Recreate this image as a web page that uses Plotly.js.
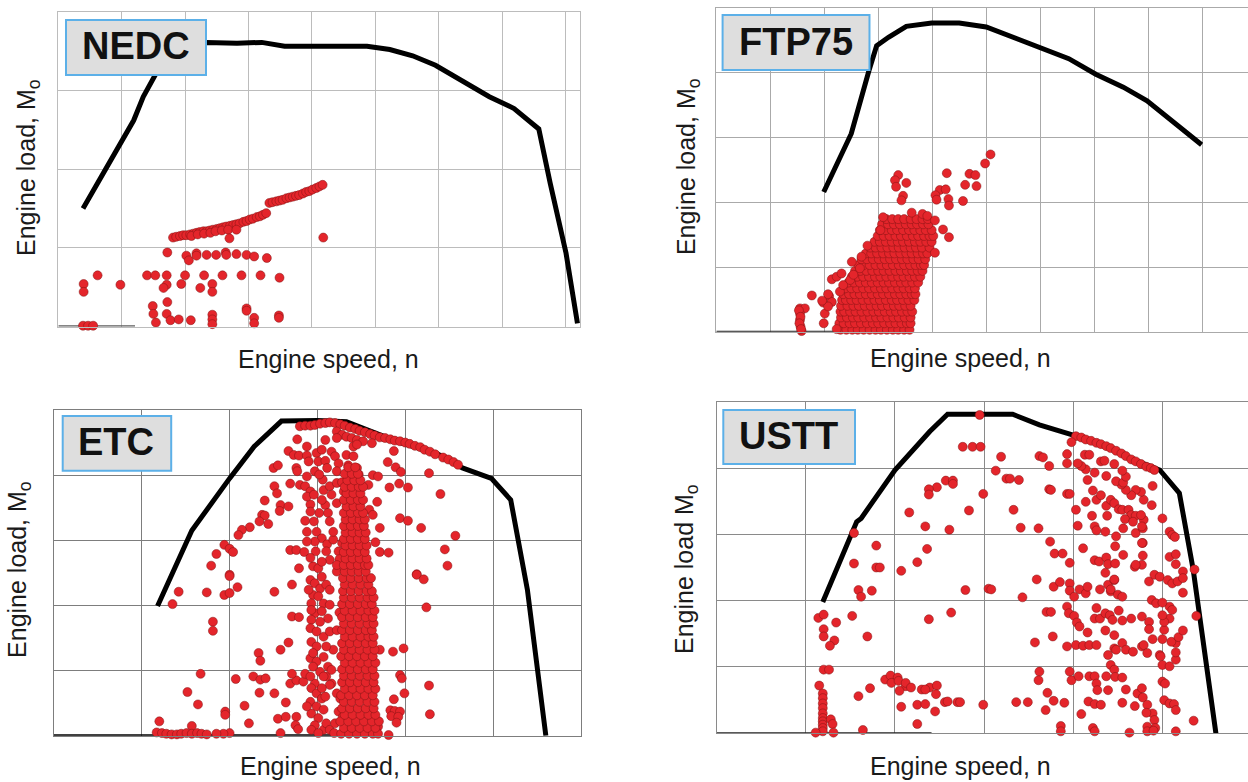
<!DOCTYPE html>
<html><head><meta charset="utf-8">
<script src="https://cdn.plot.ly/plotly-3.0.1.min.js"></script>
<style>html,body{margin:0;padding:0;background:#fff;}#chart{width:1248px;height:782px;}</style>
</head><body><div id="chart"></div>
<script>
// ---------- labels ----------
const panelNames = ['NEDC', 'FTP75', 'ETC', 'USTT'];
const xTitles = ['Engine speed, n', 'Engine speed, n', 'Engine speed, n', 'Engine speed, n'];
const yTitles = ['Engine load, M<sub>o</sub>', 'Engine load, M<sub>o</sub>', 'Engine load, M<sub>o</sub>', 'Engine load M<sub>o</sub>'];

// ---------- NEDC ----------
const nedcCurveX = [0.39,1.19,1.34,1.52,1.75,2.00,2.33,2.82,3.21,3.57,4.51,4.87,5.23,5.59,5.95,6.32,6.80,7.19,7.58,7.76,8.01,8.19];
const nedcCurveY = [1.50,2.62,2.92,3.19,3.52,3.60,3.61,3.60,3.61,3.56,3.57,3.56,3.52,3.44,3.32,3.15,2.92,2.77,2.51,1.82,0.93,0.04];
const nedcBaseX = [0, 1.21];
const nedcBaseY = [0, 0];
const nedcX = [
1.81,1.86,1.92,1.97,2.02,2.08,2.13,2.18,2.23,2.29,2.34,2.39,2.44,2.50,2.55,2.60,2.65,2.71,2.76,2.81,2.86,2.92,2.97,3.02,3.07,3.13,3.18,3.23,3.28,
2.10,2.20,2.30,2.40,2.48,2.58,2.68,2.81,
3.33,3.38,3.44,3.49,3.54,3.60,3.65,3.70,3.75,3.80,3.86,3.91,3.96,4.01,4.07,4.12,4.17,
2.70,4.18,
1.72,2.02,2.06,2.18,2.18,2.34,2.49,2.64,2.65,2.81,2.97,3.09,3.29,
0.62,0.40,0.40,0.98,1.40,1.53,1.71,1.71,1.66,1.94,2.00,2.24,2.30,2.43,2.43,2.59,2.89,3.19,3.49,
1.49,1.50,1.54,1.72,1.71,1.77,1.90,2.09,2.43,2.43,2.43,2.97,2.97,3.09,3.09,3.48,3.48,
0.39,0.47,0.55];
const nedcY = [
1.13,1.14,1.15,1.16,1.16,1.17,1.18,1.19,1.20,1.21,1.21,1.22,1.23,1.24,1.25,1.26,1.27,1.28,1.29,1.30,1.31,1.33,1.34,1.36,1.37,1.39,1.40,1.42,1.44,
1.15,1.17,1.18,1.19,1.21,1.22,1.23,1.23,
1.57,1.58,1.59,1.60,1.61,1.63,1.64,1.65,1.66,1.67,1.69,1.71,1.72,1.74,1.76,1.78,1.80,
1.12,1.13,
0.94,0.90,0.84,0.93,0.90,0.91,0.91,0.94,0.91,0.92,0.91,0.89,0.87,
0.65,0.54,0.44,0.53,0.65,0.65,0.65,0.53,0.49,0.54,0.65,0.49,0.65,0.54,0.44,0.65,0.65,0.65,0.62,
0.26,0.16,0.05,0.31,0.16,0.08,0.09,0.08,0.15,0.09,0.03,0.23,0.20,0.11,0.04,0.14,0.11,
0.01,0.01,0.01];

// ---------- FTP75 ----------
const ftpCurveX = [1.99,2.50,2.83,2.97,3.19,3.52,3.99,4.50,5.00,5.51,6.02,6.53,7.03,7.54,7.98,8.48,8.99];
const ftpCurveY = [2.16,3.06,4.04,4.42,4.55,4.72,4.77,4.77,4.71,4.55,4.40,4.22,3.98,3.78,3.57,3.24,2.89];
const ftpBaseX = [0, 3.0];
const ftpBaseY = [0, 0];
const ftpPts = [
[5.08,2.74],[4.98,2.60],[4.69,2.44],[4.80,2.42],[4.61,2.27],[4.82,2.25],[4.57,2.02],[4.27,2.45],[4.14,2.19],[4.25,2.20],[4.06,2.11],[4.08,2.04],[4.30,2.05],[4.31,1.95],
[3.37,2.42],[3.31,2.34],[3.52,2.30],[3.33,2.24],[3.46,2.10],[3.43,2.03],
[3.62,1.84],[3.82,1.82],[3.91,1.79],[4.05,1.72],[4.20,1.58],[4.31,1.46],[4.05,1.22],[3.09,1.77],[3.04,1.57],[2.80,1.33],[2.69,1.16],[2.51,1.08],[2.14,0.81],[2.23,0.85],[2.32,0.90],
[1.77,0.56],[1.98,0.45],[2.09,0.55],[2.14,0.46],[1.55,0.36],[1.64,0.36],[1.55,0.28],[1.55,0.18],[1.56,0.08],[1.58,0.01],[2.23,0.04],[2.01,0.28],[1.99,0.13],[2.07,0.39],[2.29,0.62],[2.35,0.72],[2.48,0.80],[2.54,0.88],[2.66,0.98],
[1.53,0.33],[1.56,0.23],[1.54,0.13],[1.57,0.04],[2.07,0.58],[1.96,0.48]];
// dense cloud, read row by row (row load value, speeds in that row)
const ftpCloudY = [0.03,0.13,0.22,0.31,0.40,0.49,0.58,0.67,0.76,0.85,0.94,1.03,1.12,1.21,1.30,1.39,1.48,1.57,1.66,1.74];
const ftpCloudX = [
[2.30,2.41,2.52,2.62,2.73,2.84,2.95,3.05,3.16,3.27,3.37,3.48,3.58],
[2.28,2.36,2.47,2.57,2.68,2.79,2.90,3.00,3.11,3.22,3.32,3.43,3.53,3.60],
[2.31,2.42,2.53,2.63,2.74,2.85,2.96,3.06,3.17,3.28,3.38,3.49,3.60],
[2.30,2.37,2.48,2.58,2.69,2.80,2.91,3.01,3.12,3.23,3.33,3.44,3.54,3.63],
[2.31,2.43,2.54,2.64,2.75,2.86,2.97,3.07,3.18,3.29,3.39,3.50,3.60],
[2.33,2.40,2.50,2.60,2.71,2.82,2.93,3.03,3.14,3.25,3.35,3.46,3.56,3.67],
[2.35,2.46,2.56,2.66,2.77,2.88,2.99,3.09,3.20,3.31,3.41,3.52,3.62,3.69],
[2.39,2.50,2.61,2.72,2.83,2.94,3.05,3.15,3.26,3.37,3.47,3.58,3.68],
[2.45,2.55,2.66,2.77,2.88,2.99,3.10,3.20,3.31,3.42,3.52,3.63,3.74],
[2.51,2.61,2.72,2.83,2.94,3.04,3.15,3.26,3.37,3.47,3.58,3.68,3.78],
[2.57,2.67,2.78,2.89,3.00,3.10,3.21,3.32,3.42,3.53,3.63,3.73,3.82],
[2.63,2.73,2.84,2.95,3.06,3.16,3.27,3.38,3.48,3.59,3.69,3.79,3.85],
[2.69,2.79,2.90,3.01,3.12,3.22,3.33,3.44,3.54,3.65,3.75,3.87],
[2.77,2.87,2.98,3.09,3.20,3.30,3.41,3.52,3.62,3.73,3.83,3.91],
[2.85,2.95,3.06,3.17,3.28,3.38,3.49,3.60,3.70,3.81,3.95],
[2.93,3.03,3.14,3.25,3.36,3.46,3.57,3.68,3.78,3.89,3.99],
[2.99,3.10,3.21,3.32,3.42,3.53,3.64,3.74,3.85,3.95,4.02],
[3.03,3.14,3.25,3.35,3.46,3.57,3.67,3.78,3.88,3.99],
[3.07,3.18,3.29,3.40,3.51,3.62,3.72,3.83,3.93],
[3.15,3.26,3.37,3.48,3.60,3.71,3.82,3.92]];

// ---------- ETC ----------
const etcCurveX = [1.18,1.57,2.00,2.28,2.59,3.00,3.33,3.57,3.96,4.35,4.65,4.98,5.20,5.39,5.60];
const etcCurveY = [1.99,3.15,3.95,4.44,4.83,4.84,4.82,4.69,4.49,4.34,4.11,3.95,3.62,2.24,0.00];
const etcBaseX = [0, 3.6];
const etcBaseY = [0, 0];
const etcPts = [
// band along the full-load curve
[2.80,4.75],[2.86,4.76],[2.92,4.76],[2.97,4.77],[3.03,4.79],[3.09,4.80],[3.14,4.81],[3.20,4.80],[3.26,4.78],[3.31,4.76],[3.37,4.73],[3.43,4.71],[3.48,4.68],[3.54,4.66],[3.60,4.63],[3.65,4.61],[3.71,4.58],[3.77,4.57],[3.83,4.55],[3.88,4.53],[3.94,4.52],[4.00,4.50],[4.05,4.48],[4.11,4.45],[4.17,4.43],[4.22,4.39],[4.28,4.36],[4.34,4.32],[4.43,4.27],[4.49,4.24],[4.55,4.20],[4.60,4.16],
[3.22,4.67],[3.28,4.62],[3.33,4.59],[3.39,4.57],[3.45,4.54],[3.52,4.52],[3.62,4.49],[3.22,4.57],[3.41,4.44],[3.45,4.47],
// upper scatter
[2.77,4.55],[3.09,4.54],[2.67,4.37],[2.73,4.31],[2.79,4.30],[2.88,4.44],[2.88,4.30],[2.90,4.21],[2.99,4.34],[3.01,4.21],[3.05,4.39],[3.09,4.22],[3.11,4.11],[3.16,4.36],[3.20,4.29],[3.24,4.18],[3.22,4.06],[3.33,4.31],[3.35,4.15],[3.41,4.29],[3.45,4.11],[3.47,4.01],
[2.50,4.11],[2.55,4.15],[2.76,4.11],[2.77,4.06],[2.88,3.98],[2.80,3.85],[2.86,3.83],[2.69,3.87],[2.51,3.83],[2.54,3.72],[2.40,3.61],[2.58,3.54],[2.57,3.45],[2.67,3.52],[2.37,3.39],[2.40,3.38],[2.34,3.29],[2.44,3.25],[2.23,3.20],[2.14,3.16],[2.10,3.08],[1.94,2.93],[2.00,2.87],[2.04,2.82],[1.85,2.79],[1.79,2.61],[2.00,2.47],
[2.69,2.85],[2.76,2.85],[2.85,2.82],[2.79,2.57],[2.95,2.60],[3.01,2.57],[3.22,2.52],[3.31,2.55],
[2.86,3.30],[2.88,3.13],[2.99,3.13],[2.92,3.55],[2.96,3.29],[3.02,3.42],[3.09,3.54],[3.12,3.42],[3.07,3.77],[3.14,3.83],[3.16,3.70],[3.22,3.57],[3.22,3.88],[3.28,3.89],[3.30,3.75],
[3.05,3.03],[3.11,2.94],[2.97,2.98],[2.98,2.83],[3.10,2.83],[3.18,3.01],[3.24,2.83],[3.28,2.96],[3.25,2.71],[3.37,2.85],[3.35,2.67],[2.97,4.06],[3.06,3.93],[3.02,4.01],
[2.92,3.75],[2.88,3.67],[2.96,3.70],[3.05,3.62],[2.92,3.44],[3.14,3.29],[2.88,2.98],[2.92,2.73],[3.14,2.70],[3.05,2.67],[3.22,2.62],[3.18,3.13],
// right-hand scatter
[3.63,4.00],[3.69,3.98],[3.58,3.85],[3.82,3.81],[3.93,3.87],[4.03,3.81],[3.80,4.20],[3.89,4.12],[3.95,4.05],[3.87,4.37],[4.27,4.03],[4.40,3.71],[3.68,3.59],[3.59,3.47],[3.63,3.39],[3.71,3.19],[3.94,3.34],[4.03,3.30],[4.18,3.19],[4.57,3.07],[3.66,2.97],[3.71,2.82],[3.81,2.81],[4.45,2.86],[4.48,2.61],[4.13,2.48],
// lower scatter
[1.42,2.21],[1.35,2.02],[1.74,2.20],[1.94,2.16],[2.00,2.19],[2.09,2.28],[2.00,2.45],[2.51,2.21],[2.71,2.32],[1.81,1.75],[1.81,1.61],[2.71,1.83],[2.79,1.82],[2.67,1.43],[2.58,1.32],[2.33,1.27],[2.35,1.15],
[1.67,0.95],[2.07,0.87],[2.27,0.91],[2.35,0.86],[2.41,0.88],[1.52,0.67],[1.64,0.48],[1.95,0.37],[1.95,0.32],[2.17,0.46],[2.34,0.66],[2.51,0.65],[2.64,0.51],[2.22,0.19],[2.55,0.26],[2.64,0.29],[2.76,0.29],[2.69,0.80],[2.76,0.85],[2.84,0.83],[2.71,0.95],[2.86,0.95],
[1.20,0.22],[1.57,0.15],[2.75,0.16],[2.78,0.10],[2.58,0.04],[2.00,0.04],[1.93,0.03],[1.85,0.03],
[1.17,0.05],[1.23,0.04],[1.28,0.03],[1.34,0.02],[1.40,0.02],[1.45,0.03],[1.51,0.04],[1.57,0.03],[1.63,0.04],[1.68,0.03],[1.74,0.02],
[3.71,1.32],[3.86,1.29],[3.98,1.34],[3.94,0.93],[3.96,0.88],[3.99,0.65],[3.87,0.56],[3.83,0.39],[3.88,0.38],[3.94,0.37],[3.84,0.30],[3.92,0.29],[3.90,0.20],[3.81,0.01],[3.69,0.14],[3.67,0.06],[3.65,0.29],[4.27,0.77],[4.28,0.33],[4.24,1.97],[4.13,2.47],[4.21,2.40],[3.07,0.09],[3.16,0.80],[3.10,0.91],[3.12,1.80],[3.25,1.89],
// second (left) column
[2.92,2.39],[2.97,2.34],[3.03,2.26],[3.10,2.32],[2.95,2.16],[3.01,2.14],[3.07,2.03],[2.93,2.03],[3.14,2.01],[2.97,1.88],[2.93,1.78],[3.03,1.75],[2.92,1.65],[2.99,1.60],[3.07,1.52],[2.93,1.44],[3.14,1.60],[3.22,1.62],[3.18,1.32],[2.92,1.19],
[2.99,1.14],[3.07,1.21],[3.12,1.06],[2.95,1.06],[3.03,0.98],[2.97,0.80],[2.93,0.73],[2.99,0.65],[3.05,0.57],[2.92,0.52],[2.99,0.45],[2.93,0.34],[3.01,0.27],[2.97,0.16],[3.09,0.60],[3.16,1.01],[3.22,0.65],[3.26,0.57],[3.24,0.37],[3.29,0.29],
[2.90,2.24],[3.05,2.44],[3.14,2.24],[2.93,1.93],[3.05,1.91],[2.99,1.37],[3.10,1.37],[2.95,1.27],[3.07,0.91],[3.14,0.78],[2.92,0.91],[3.05,0.73],[2.88,0.45],[3.07,0.40],[3.10,0.19],[2.93,0.09],[3.01,0.04],[3.14,0.09],[3.20,0.19],[3.19,0.04]];
// dense main column, read row by row
const etcColY = [0.03,0.12,0.22,0.32,0.42,0.52,0.62,0.72,0.82,0.92,1.02,1.12,1.22,1.32,1.42,1.52,1.62,1.72,1.82,1.92,2.02,2.12,2.22,2.32,2.42,2.52,2.62,2.72,2.82,2.92,3.02,3.12,3.22,3.32,3.42,3.52,3.62,3.72,3.82,3.92,4.02,4.12];
const etcColX = [
[3.27,3.36,3.45,3.54,3.63,3.69],[3.30,3.39,3.48,3.57,3.66],[3.26,3.35,3.44,3.53,3.62,3.70],[3.31,3.40,3.49,3.58,3.66],
[3.28,3.37,3.46,3.55,3.64],[3.30,3.39,3.48,3.57,3.65],[3.27,3.36,3.45,3.54,3.63],[3.31,3.40,3.49,3.58,3.66],
[3.28,3.37,3.46,3.55,3.64],[3.30,3.39,3.48,3.57,3.65],[3.28,3.37,3.46,3.55,3.63],[3.31,3.40,3.49,3.58,3.66],
[3.27,3.36,3.45,3.54,3.63],[3.30,3.39,3.48,3.57,3.65],[3.28,3.37,3.46,3.55,3.63],[3.31,3.40,3.49,3.58,3.64],
[3.28,3.37,3.46,3.55,3.62],[3.30,3.39,3.48,3.57,3.64],[3.28,3.37,3.46,3.55,3.63],[3.31,3.40,3.49,3.58,3.65],
[3.28,3.37,3.46,3.55,3.62],[3.30,3.39,3.48,3.57,3.64],[3.29,3.38,3.47,3.56,3.62],[3.31,3.40,3.49,3.58],
[3.29,3.38,3.47,3.56,3.61],[3.31,3.39,3.47,3.55],[3.30,3.38,3.46,3.54,3.58],[3.32,3.40,3.48,3.56],
[3.30,3.38,3.46,3.54],[3.32,3.40,3.48,3.56],[3.30,3.38,3.46,3.54],[3.32,3.40,3.48,3.55],
[3.30,3.38,3.46,3.53],[3.32,3.40,3.48,3.54],[3.30,3.38,3.46,3.52],[3.33,3.41,3.49],
[3.30,3.38,3.46,3.52],[3.33,3.41,3.49],[3.31,3.39,3.47,3.52],[3.34,3.42,3.49],
[3.31,3.39,3.46],[3.35,3.43]];

// ---------- USTT ----------
const usttCurveX = [1.19,1.57,1.62,2.00,2.39,2.59,3.32,3.62,3.99,4.37,4.63,4.97,5.19,5.345,5.60];
const usttCurveY = [1.98,3.19,3.24,3.97,4.55,4.81,4.81,4.65,4.50,4.32,4.15,3.97,3.62,2.47,0.00];
const usttBaseX = [0, 2.41];
const usttBaseY = [0, 0];
const usttPts = [
[2.95,4.80],[2.76,4.32],[2.87,4.32],[2.96,4.32],[2.57,3.81],[2.65,3.81],[2.65,3.76],[2.47,3.71],[2.38,3.68],[2.38,3.60],[2.99,3.61],[2.83,3.36],[2.16,3.33],[2.34,3.12],[2.61,3.07],[2.36,2.78],[1.79,2.83],[2.25,2.58],[1.54,2.56],[1.79,2.50],[1.83,2.50],[2.07,2.45],[1.59,2.16],[1.62,2.06],[1.74,2.15],[2.79,2.16],[3.05,2.18],[2.63,1.82],[2.38,1.72],[1.52,1.77],[1.14,1.74],[1.20,1.79],[1.34,1.67],[1.20,1.57],[1.20,1.46],[1.32,1.40],[1.27,1.32],[1.69,1.46],[1.20,0.96],[1.26,0.96],[1.15,0.72],
[1.89,0.81],[1.95,0.87],[2.03,0.84],[2.12,0.71],[2.30,0.66],[2.39,0.69],[2.47,0.72],[2.46,0.59],[1.96,0.76],[2.04,0.79],[2.12,0.76],[2.18,0.69],[2.05,0.64],[2.34,0.66],[1.72,0.68],[1.59,0.56],[2.07,0.40],[2.25,0.43],[2.34,0.44],[2.56,0.47],[2.59,0.48],[2.70,0.47],[2.73,0.47],[2.99,0.43],[2.45,0.33],[2.25,0.14],[1.64,0.05],
[1.19,0.60],[1.19,0.53],[1.19,0.45],[1.19,0.38],[1.19,0.30],[1.19,0.23],[1.19,0.18],[1.19,0.13],[1.19,0.08],[1.19,0.03],[1.28,0.21],[1.30,0.14],[1.11,0.01],[1.31,0.01],[1.54,3.02],
[4.03,4.48],[4.09,4.46],[4.14,4.43],[4.20,4.41],[4.26,4.38],[4.31,4.36],[4.37,4.33],[4.42,4.30],[4.48,4.26],[4.54,4.22],[4.59,4.18],[4.65,4.13],[4.70,4.10],[4.76,4.06],[4.82,4.02],[4.87,4.00],[4.91,3.97],
[3.19,4.17],[3.62,4.18],[3.66,4.16],[3.73,4.03],[3.13,3.96],[3.25,3.84],[3.29,3.84],[3.39,3.82],[3.73,3.68],[3.75,3.67],[3.93,3.61],[3.96,3.61],[3.33,3.37],[3.41,3.10],[3.61,3.09],[3.74,2.89],[3.79,2.71],[3.88,2.71],[3.96,2.57],[4.11,2.79],[3.08,2.17],[3.43,2.05],[3.59,2.32],[3.78,2.21],[3.85,2.28],[3.96,2.26],[3.96,2.15],[4.01,2.06],[4.07,2.17],[4.14,2.11],[4.16,2.21],[4.30,2.17],[4.39,2.24],[4.46,2.31],[4.42,2.14],[4.50,2.09],[4.55,2.06],
[3.93,1.91],[3.95,1.81],[3.70,1.83],[3.75,1.83],[4.01,1.77],[4.04,1.67],[4.07,1.61],[4.26,1.89],[4.24,1.73],[4.30,1.73],[4.36,1.81],[4.41,1.78],[4.44,1.71],[4.51,1.85],[4.55,1.70],[4.65,1.73],[4.77,1.76],[4.85,1.68],[4.85,1.57],[4.89,1.42],[4.36,1.55],[4.46,1.48],[4.16,1.52],[3.57,1.37],[3.77,1.46],[3.93,1.31],[4.03,1.33],[4.11,1.32],[4.18,1.33],[4.26,1.33],[4.39,1.18],[4.42,1.03],[4.46,1.28],[4.48,1.26],[4.55,1.36],[4.59,1.26],[4.67,1.23],[4.77,1.31],[4.79,1.33],[4.83,1.21],[4.97,1.18],[4.98,1.16],[5.00,1.03],[5.08,1.01],[5.15,1.11],[5.15,1.22],[5.15,1.36],[5.02,1.56],[5.00,1.42],[5.10,1.38],[5.18,1.45],[5.23,1.55],[5.08,1.73],[5.02,1.68],[5.00,1.78],[5.08,1.91],[5.11,1.86],[4.88,2.01],[4.93,1.96],[5.00,1.97],
[4.85,2.29],[4.91,2.39],[4.97,2.36],[5.06,2.31],[5.11,2.26],[5.17,2.29],[5.23,2.44],[5.23,2.34],[5.23,2.12],[5.08,2.66],[5.15,2.70],[5.15,2.55],[5.36,2.47],[5.38,1.77],[4.77,2.54],[4.69,2.51],[4.78,2.68],[4.78,2.87],[4.70,3.02],[4.78,3.09],[4.79,3.22],[5.08,3.04],[5.11,2.99],[5.14,2.96],[5.00,3.24],[4.88,3.44],[4.89,3.73],[4.79,3.52],[4.76,3.64],[4.70,3.67],[4.65,3.59],[4.59,3.67],[4.54,3.75],[4.48,3.80],[4.56,3.78],[4.59,3.87],[4.55,3.96],[4.46,4.06],[4.37,3.88],[4.31,4.10],[4.35,4.11],[4.24,3.93],[4.14,3.98],[4.16,3.82],[4.09,4.03],[4.05,4.07],[4.13,4.20],[4.18,4.20],[3.93,4.21],[3.93,4.07],[3.98,4.39],
[4.22,3.66],[4.26,3.52],[4.31,3.59],[4.37,3.43],[4.42,3.52],[4.46,3.47],[4.51,3.38],[4.55,3.37],[4.62,3.37],[4.65,3.29],[4.70,3.28],[4.76,3.29],[4.58,3.23],[4.67,3.19],[4.77,3.12],[4.14,3.49],[4.03,3.37],[4.21,3.28],[4.38,3.28],[4.05,3.13],[4.24,3.12],[4.26,3.06],[4.36,3.04],[4.48,2.97],[4.56,3.09],[4.47,2.82],[4.77,2.87],[4.24,2.61],[4.29,2.59],[4.37,2.65],[4.39,2.55],[4.47,2.56],[4.36,2.42],[4.56,2.69],[4.70,2.54],[4.46,2.32],[4.42,2.17],
[3.62,0.93],[3.61,0.80],[3.96,0.93],[3.98,0.80],[4.06,0.86],[4.18,0.86],[4.24,0.86],[4.26,0.75],[4.27,0.65],[4.37,0.86],[4.39,0.65],[4.46,0.96],[4.47,0.85],[4.55,0.84],[4.59,0.66],[4.72,0.60],[4.77,0.68],[4.78,0.54],[4.83,0.43],[4.89,0.30],[4.91,0.20],[4.83,0.10],[4.92,0.08],[5.00,0.78],[5.03,0.75],[5.02,0.50],[5.08,0.45],[5.13,0.44],[5.15,0.35],[5.35,0.19],[3.71,0.61],[3.78,0.49],[3.69,0.35],[3.90,0.46],[3.36,0.47],[3.49,0.47],[4.09,0.29],[4.17,0.48],[4.24,0.44],[4.31,0.43],[4.55,0.46],[4.69,0.41],[4.82,0.31],[3.86,0.11],[3.86,0.03],[4.22,0.08],[4.24,0.03],[4.63,0.01],[4.83,0.03],[5.15,0.03],[4.90,0.04]];

// ---------- helpers ----------
function rowsToXY(rowY, rowX) {
  const x = [], y = [];
  rowY.forEach((yy, i) => rowX[i].forEach(xx => { x.push(xx); y.push(yy); }));
  return {x, y};
}
function pairsToXY(pairs) { return {x: pairs.map(p => p[0]), y: pairs.map(p => p[1])}; }

const RED = '#e4252b';
const markerStyle = {color: RED, size: 9, line: {color: 'rgba(130,20,20,0.85)', width: 0.6}};
const FONT = 'Liberation Sans, Arial, Helvetica, sans-serif';

function curveTrace(x, y, ax) {
  return {x, y, type: 'scatter', mode: 'lines', xaxis: 'x' + ax, yaxis: 'y' + ax,
          line: {color: '#000', width: 5}, cliponaxis: false, hoverinfo: 'skip'};
}
function baseTrace(x, y, ax, color, width) {
  return {x, y, type: 'scatter', mode: 'lines', xaxis: 'x' + ax, yaxis: 'y' + ax,
          line: {color, width}, cliponaxis: false, hoverinfo: 'skip'};
}
function ptsTrace(x, y, ax) {
  return {x, y, type: 'scatter', mode: 'markers', xaxis: 'x' + ax, yaxis: 'y' + ax,
          marker: markerStyle, cliponaxis: false};
}

const ftpCloud = rowsToXY(ftpCloudY, ftpCloudX);
const ftpScatter = pairsToXY(ftpPts);
const etcCol = rowsToXY(etcColY, etcColX);
const etcScatter = pairsToXY(etcPts);
const usttScatter = pairsToXY(usttPts);

const data = [
  baseTrace(nedcBaseX, nedcBaseY, '', '#5e5e5e', 2.5),
  curveTrace(nedcCurveX, nedcCurveY, ''),
  ptsTrace(nedcX, nedcY, ''),
  baseTrace(ftpBaseX, ftpBaseY, '2', '#222', 2),
  curveTrace(ftpCurveX, ftpCurveY, '2'),
  ptsTrace(ftpCloud.x, ftpCloud.y, '2'),
  ptsTrace(ftpScatter.x, ftpScatter.y, '2'),
  baseTrace(etcBaseX, etcBaseY, '3', '#000', 3),
  curveTrace(etcCurveX, etcCurveY, '3'),
  ptsTrace(etcScatter.x, etcScatter.y, '3'),
  ptsTrace(etcCol.x, etcCol.y, '3'),
  baseTrace(usttBaseX, usttBaseY, '4', '#222', 2),
  curveTrace(usttCurveX, usttCurveY, '4'),
  ptsTrace(usttScatter.x, usttScatter.y, '4')
];

function axis(domain, range, grid, anchor) {
  return {domain, range, dtick: 1, tick0: 0, showgrid: true, gridcolor: grid, gridwidth: 1,
          zeroline: false, showticklabels: false, ticks: '', showline: true, linecolor: grid,
          linewidth: 1, mirror: true, anchor, fixedrange: true};
}

const layout = {
  width: 1248, height: 782, margin: {l: 0, r: 0, t: 0, b: 0},
  paper_bgcolor: '#fff', plot_bgcolor: '#fff', showlegend: false,
  font: {family: FONT, color: '#1a1a1a'},
  xaxis:  axis([0.04671, 0.46474], [0, 8.23], '#bcbcbc', 'y'),
  yaxis:  axis([0.58248, 0.98504], [0, 4],    '#bcbcbc', 'x'),
  xaxis2: axis([0.57396, 1.0],     [0, 9.85], '#aaaaaa', 'y2'),
  yaxis2: axis([0.57583, 0.98951], [0, 5],    '#aaaaaa', 'x2'),
  xaxis3: axis([0.04319, 0.46554], [0, 6],    '#7d7d7d', 'y3'),
  yaxis3: axis([0.05921, 0.47570], [0, 5],    '#7d7d7d', 'x3'),
  xaxis4: axis([0.57428, 1.0],     [0, 5.96], '#8a8a8a', 'y4'),
  yaxis4: axis([0.06228, 0.48632], [0, 5],    '#8a8a8a', 'x4'),
  shapes: [], annotations: []
};

// label boxes [x0,x1,y0,y1] in page fractions and text centres
const boxes = [
  {x0: 0.05288, x1: 0.16506, y0: 0.90409, y1: 0.97442, cx: 0.10921, cy: 0.94143},
  {x0: 0.57900, x1: 0.69670, y0: 0.91050, y1: 0.98080, cx: 0.63782, cy: 0.94693},
  {x0: 0.05024, x1: 0.13718, y0: 0.39808, y1: 0.46803, cx: 0.09295, cy: 0.43542},
  {x0: 0.57957, x1: 0.68510, y0: 0.40665, y1: 0.47570, cx: 0.63221, cy: 0.44309}
];
boxes.forEach((b, i) => {
  layout.shapes.push({type: 'rect', xref: 'paper', yref: 'paper', x0: b.x0, x1: b.x1, y0: b.y0, y1: b.y1,
    fillcolor: '#dedede', line: {color: '#5cb0e8', width: 2}, layer: 'above'});
  layout.annotations.push({xref: 'paper', yref: 'paper', x: b.cx, y: b.cy, xanchor: 'center', yanchor: 'middle',
    text: '<b>' + panelNames[i] + '</b>', showarrow: false, font: {family: FONT, size: 38, color: '#111'}});
});

// x titles: [x, y, yanchor]
const xTitlePos = [[0.2636, 0.5409, 'middle'], [0.7700, 0.5422, 'middle'], [0.2652, 0.0, 'bottom'], [0.7700, 0.0, 'bottom']];
const yTitlePos = [[0.0224, 0.7864], [0.5513, 0.7864], [0.0152, 0.2724], [0.5497, 0.2724]];
xTitlePos.forEach((p, i) => layout.annotations.push({xref: 'paper', yref: 'paper', x: p[0], y: p[1],
  xanchor: 'center', yanchor: p[2], text: xTitles[i], showarrow: false, font: {family: FONT, size: 25, color: '#1a1a1a'}}));
yTitlePos.forEach((p, i) => layout.annotations.push({xref: 'paper', yref: 'paper', x: p[0], y: p[1],
  xanchor: 'center', yanchor: 'middle', textangle: -90, text: yTitles[i], showarrow: false, font: {family: FONT, size: 25, color: '#1a1a1a'}}));

Plotly.newPlot('chart', data, layout, {staticPlot: true, displayModeBar: false});
</script></body></html>
